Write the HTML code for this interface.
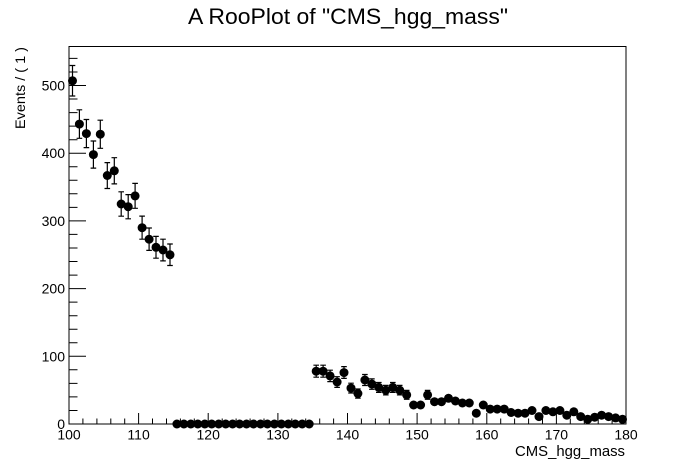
<!DOCTYPE html>
<html>
<head>
<meta charset="utf-8">
<style>
html,body{margin:0;padding:0;background:#fff;}
svg{display:block;}
text{font-family:"Liberation Sans",Arial,sans-serif;fill:#000;}
</style>
</head>
<body>
<svg width="696" height="472" viewBox="0 0 696 472" xmlns="http://www.w3.org/2000/svg">
<defs>
<marker id="dot" markerWidth="10" markerHeight="10" refX="5" refY="5" markerUnits="userSpaceOnUse" overflow="visible">
<circle cx="5" cy="5" r="4.5" fill="#000"/>
</marker>
</defs>
<rect width="696" height="472" fill="#fff"/>
<text x="348" y="24" font-size="22" text-anchor="middle" textLength="320" lengthAdjust="spacingAndGlyphs">A RooPlot of "CMS_hgg_mass"</text>
<rect x="69" y="46.5" width="557" height="377.5" fill="none" stroke="#000" stroke-width="1"/>
<g stroke="#000" stroke-width="1" fill="none">
<path d="M69 424H86M69 356.3H86M69 288.6H86M69 220.9H86M69 153.2H86M69 85.5H86"/>
<path d="M69 410.5h8.5M69 396.9h8.5M69 383.4h8.5M69 369.8h8.5M69 342.8h8.5M69 329.2h8.5M69 315.7h8.5M69 302.1h8.5M69 275.1h8.5M69 261.5h8.5M69 248h8.5M69 234.4h8.5M69 207.4h8.5M69 193.8h8.5M69 180.3h8.5M69 166.7h8.5M69 139.7h8.5M69 126.1h8.5M69 112.6h8.5M69 99h8.5M69 72h8.5M69 58.4h8.5"/>
<path d="M69 424V413M138.6 424V413M208.2 424V413M277.9 424V413M347.5 424V413M417.1 424V413M486.8 424V413M556.4 424V413M626 424V413"/>
<path d="M82.9 424v-5.5M96.9 424v-5.5M110.8 424v-5.5M124.7 424v-5.5M152.5 424v-5.5M166.5 424v-5.5M180.4 424v-5.5M194.3 424v-5.5M222.2 424v-5.5M236.1 424v-5.5M250.1 424v-5.5M264 424v-5.5M291.8 424v-5.5M305.7 424v-5.5M319.7 424v-5.5M333.6 424v-5.5M361.4 424v-5.5M375.4 424v-5.5M389.3 424v-5.5M403.2 424v-5.5M431.1 424v-5.5M445 424v-5.5M458.9 424v-5.5M472.9 424v-5.5M500.7 424v-5.5M514.6 424v-5.5M528.6 424v-5.5M542.5 424v-5.5M570.3 424v-5.5M584.3 424v-5.5M598.2 424v-5.5M612.1 424v-5.5"/>
</g>
<g font-size="14" text-anchor="end">
<text x="65" y="429">0</text>
<text x="65" y="361.3">100</text>
<text x="65" y="293.6">200</text>
<text x="65" y="225.9">300</text>
<text x="65" y="158.2">400</text>
<text x="65" y="90.5">500</text>
</g>
<g font-size="14" text-anchor="middle">
<text x="69" y="439.5">100</text>
<text x="138.6" y="439.5">110</text>
<text x="208.2" y="439.5">120</text>
<text x="277.9" y="439.5">130</text>
<text x="347.5" y="439.5">140</text>
<text x="417.1" y="439.5">150</text>
<text x="486.8" y="439.5">160</text>
<text x="556.4" y="439.5">170</text>
<text x="626" y="439.5">180</text>
</g>
<text x="515" y="456" font-size="14.5" textLength="110" lengthAdjust="spacingAndGlyphs">CMS_hgg_mass</text>
<text transform="translate(25,129) rotate(-90)" font-size="14" textLength="82" lengthAdjust="spacingAndGlyphs">Events / ( 1 )</text>
<path stroke="#000" stroke-width="1.2" fill="none" d="M72.5 65.5V96m-2.8-30.5h5.6m-5.6 30.5h5.6 M79.4 109.8V138.3m-2.8-28.5h5.6m-5.6 28.5h5.6 M86.4 119.5V147.6m-2.8-28.1h5.6m-5.6 28.1h5.6 M93.4 141V168.1m-2.8-27.1h5.6m-5.6 27.1h5.6 M100.3 120.2V148.3m-2.8-28.1h5.6m-5.6 28.1h5.6 M107.3 162.6V188.5m-2.8-25.9h5.6m-5.6 25.9h5.6 M114.3 157.7V183.9m-2.8-26.2h5.6m-5.6 26.2h5.6 M121.2 191.8V216.2m-2.8-24.4h5.6m-5.6 24.4h5.6 M128.2 194.6V218.8m-2.8-24.2h5.6m-5.6 24.2h5.6 M135.1 183.4V208.3m-2.8-24.9h5.6m-5.6 24.9h5.6 M142.1 216.1V239.2m-2.8-23.1h5.6m-5.6 23.1h5.6 M149.1 228V250.4m-2.8-22.4h5.6m-5.6 22.4h5.6 M156 236.4V258.2m-2.8-21.8h5.6m-5.6 21.8h5.6 M163 239.2V260.9m-2.8-21.7h5.6m-5.6 21.7h5.6 M170 244V265.5m-2.8-21.5h5.6m-5.6 21.5h5.6 M316.2 365.2V377.2m-2.8-12h5.6m-5.6 12h5.6 M323.1 365.2V377.2m-2.8-12h5.6m-5.6 12h5.6 M330.1 370.2V381.6m-2.8-11.4h5.6m-5.6 11.4h5.6 M337.1 376.7V387.4m-2.8-10.7h5.6m-5.6 10.7h5.6 M344 366.6V378.4m-2.8-11.8h5.6m-5.6 11.8h5.6 M351 383.2V393m-2.8-9.8h5.6m-5.6 9.8h5.6 M357.9 389V398.1m-2.8-9.1h5.6m-5.6 9.1h5.6 M364.9 374.5V385.5m-2.8-11h5.6m-5.6 11h5.6 M371.9 378.9V389.3m-2.8-10.4h5.6m-5.6 10.4h5.6 M378.8 382.5V392.4m-2.8-9.9h5.6m-5.6 9.9h5.6 M385.8 385.4V394.9m-2.8-9.5h5.6m-5.6 9.5h5.6 M392.8 382.5V392.4m-2.8-9.9h5.6m-5.6 9.9h5.6 M399.7 385.4V394.9m-2.8-9.5h5.6m-5.6 9.5h5.6 M406.7 390.4V399.3m-2.8-8.9h5.6m-5.6 8.9h5.6 M427.6 390.4V399.3m-2.8-8.9h5.6m-5.6 8.9h5.6"/>
<polyline fill="none" stroke="none" marker-start="url(#dot)" marker-mid="url(#dot)" marker-end="url(#dot)" points="72.5,80.8 79.4,124.1 86.4,133.6 93.4,154.6 100.3,134.2 107.3,175.5 114.3,170.8 121.2,204 128.2,206.7 135.1,195.9 142.1,227.7 149.1,239.2 156,247.3 163,250 170,254.8 176.9,424 183.9,424 190.8,424 197.8,424 204.8,424 211.7,424 218.7,424 225.7,424 232.6,424 239.6,424 246.5,424 253.5,424 260.5,424 267.4,424 274.4,424 281.4,424 288.3,424 295.3,424 302.2,424 309.2,424 316.2,371.2 323.1,371.2 330.1,375.9 337.1,382 344,372.6 351,388.1 357.9,393.5 364.9,380 371.9,384.1 378.8,387.4 385.8,390.2 392.8,387.4 399.7,390.2 406.7,394.9 413.6,405 420.6,405 427.6,394.9 434.5,401.7 441.5,401.7 448.5,398.3 455.4,401 462.4,403 469.3,403 476.3,413.2 483.3,405 490.2,409.1 497.2,409.1 504.2,409.1 511.1,412.5 518.1,413.2 525,413.2 532,410.5 539,416.6 545.9,410.5 552.9,411.8 559.9,410.5 566.8,415.2 573.8,411.8 580.7,416.6 587.7,419.3 594.7,417.2 601.6,415.2 608.6,416.6 615.6,417.9 622.5,419.3"/>
</svg>
</body>
</html>
